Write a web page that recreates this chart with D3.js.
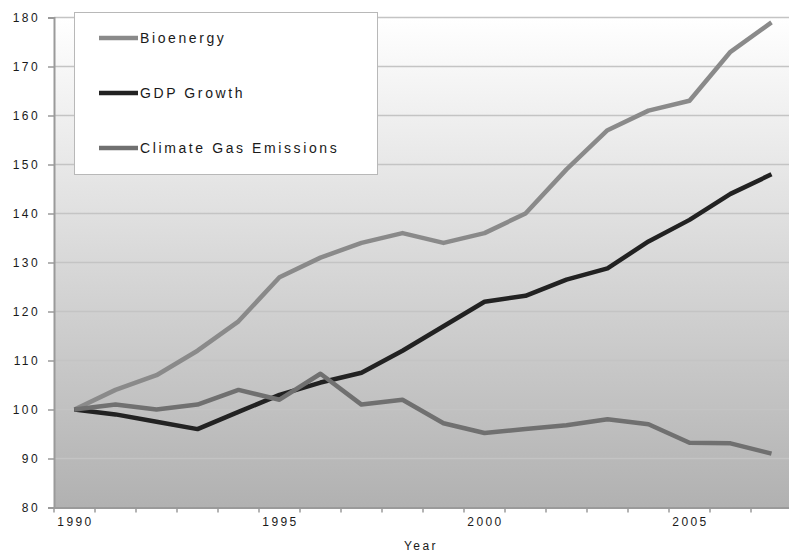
<!DOCTYPE html>
<html>
<head>
<meta charset="utf-8">
<script src="https://cdn.jsdelivr.net/npm/d3@7"></script>
<style>
  html, body { margin: 0; padding: 0; background: #fff; }
  svg { display: block; }
  text { font-family: "Liberation Sans", Arial, sans-serif; fill: #1a1a1a; }
</style>
</head>
<body>
<svg id="chart" width="789" height="553"></svg>
<script>
// Index values, 1990 = 100
const years = [1990, 1991, 1992, 1993, 1994, 1995, 1996, 1997, 1998, 1999,
               2000, 2001, 2002, 2003, 2004, 2005, 2006, 2007];
const bioenergy = [100, 104, 107, 112, 118, 127, 131, 134, 136, 134,
                   136, 140, 149, 157, 161, 163, 173, 179];
const gdpGrowth = [100, 99, 97.5, 96, 99.5, 103, 105.5, 107.5, 112, 117,
                   122, 123.2, 126.5, 128.8, 134.3, 138.7, 144, 148];
const climateGas = [100, 101, 100, 101, 104, 102, 107.3, 101, 102, 97.2,
                    95.2, 96, 96.8, 98, 97, 93.2, 93.1, 91];
const yTicks = [80, 90, 100, 110, 120, 130, 140, 150, 160, 170, 180];
const xLabels = [1990, 1995, 2000, 2005];
const seriesNames = ["Bioenergy", "GDP Growth", "Climate Gas Emissions"];
const seriesColors = ["#8a8a8a", "#222222", "#707070"];

const series = [bioenergy, gdpGrowth, climateGas];

const svg = d3.select("#chart");
const plot = { left: 54, right: 792, top: 17.5, bottom: 507.5 };

const x = d3.scaleBand().domain(years).range([plot.left, plot.right]).padding(0);
const y = d3.scaleLinear().domain([80, 180]).range([plot.bottom, plot.top]);
const cx = d => x(d) + x.bandwidth() / 2;

// Plot background: white fading to grey downwards
const defs = svg.append("defs");
const grad = defs.append("linearGradient")
  .attr("id", "bg").attr("x1", 0).attr("y1", 0).attr("x2", 0).attr("y2", 1);
grad.append("stop").attr("offset", "0%").attr("stop-color", "#ffffff");
grad.append("stop").attr("offset", "100%").attr("stop-color", "#b1b1b1");

svg.append("rect")
  .attr("x", plot.left).attr("y", plot.top)
  .attr("width", plot.right - plot.left).attr("height", plot.bottom - plot.top)
  .attr("fill", "url(#bg)");

// Horizontal gridlines
svg.append("g")
  .selectAll("line")
  .data(yTicks.filter(v => v > 80))
  .join("line")
  .attr("x1", plot.left).attr("x2", plot.right)
  .attr("y1", d => y(d)).attr("y2", d => y(d))
  .attr("stroke", "#c4c4c4").attr("stroke-width", 1.5);

// Y axis
const yAxis = svg.append("g")
  .attr("transform", `translate(${plot.left},0)`)
  .call(d3.axisLeft(y).tickValues(yTicks).tickSize(6).tickPadding(10).tickFormat(d3.format("d")));
yAxis.select(".domain").attr("stroke", "#9a9a9a").attr("stroke-width", 2);
yAxis.selectAll(".tick line").attr("stroke", "#9a9a9a").attr("stroke-width", 1.5);
yAxis.selectAll(".tick text")
  .attr("font-size", 12).attr("letter-spacing", "2.4px").attr("dx", 2)
  .style("font-family", "'Liberation Sans', Arial, sans-serif").attr("fill", "#1a1a1a");

// X axis: labels every five years, tick marks between categories
const xAxis = svg.append("g")
  .attr("transform", `translate(0,${plot.bottom})`)
  .call(d3.axisBottom(x).tickValues(xLabels).tickSize(0).tickPadding(10));
xAxis.select(".domain").attr("stroke", "#9a9a9a").attr("stroke-width", 2);
xAxis.selectAll(".tick text")
  .attr("font-size", 12).attr("letter-spacing", "2.4px").attr("dx", 1)
  .style("font-family", "'Liberation Sans', Arial, sans-serif").attr("fill", "#1a1a1a");

svg.append("g")
  .selectAll("line")
  .data(years)
  .join("line")
  .attr("x1", d => x(d)).attr("x2", d => x(d))
  .attr("y1", plot.bottom).attr("y2", plot.bottom + 5)
  .attr("stroke", "#9a9a9a").attr("stroke-width", 1.5);

svg.append("text")
  .attr("x", (plot.left + plot.right) / 2 - 2).attr("y", 550)
  .attr("text-anchor", "middle").attr("font-size", 12).attr("letter-spacing", "2.4px")
  .text("Year");

// Series lines
const line = d3.line().x((d, i) => cx(years[i])).y(d => y(d));
svg.append("g")
  .selectAll("path")
  .data(series)
  .join("path")
  .attr("d", d => line(d))
  .attr("fill", "none")
  .attr("stroke", (d, i) => seriesColors[i])
  .attr("stroke-width", 4.5)
  .attr("stroke-linejoin", "round");

// Legend
const legend = svg.append("g");
legend.append("rect")
  .attr("x", 74.5).attr("y", 12.5).attr("width", 303).attr("height", 162)
  .attr("fill", "#ffffff").attr("stroke", "#b8b8b8").attr("stroke-width", 1);
const entry = legend.selectAll("g.entry")
  .data(seriesNames)
  .join("g").attr("class", "entry")
  .attr("transform", (d, i) => `translate(0,${38 + i * 55})`);
entry.append("line")
  .attr("x1", 99).attr("x2", 138).attr("y1", 0).attr("y2", 0)
  .attr("stroke", (d, i) => seriesColors[i]).attr("stroke-width", 4.5);
entry.append("text")
  .attr("x", 140).attr("y", 5)
  .attr("font-size", 14).attr("letter-spacing", "2.6px")
  .text(d => d);
</script>
</body>
</html>
